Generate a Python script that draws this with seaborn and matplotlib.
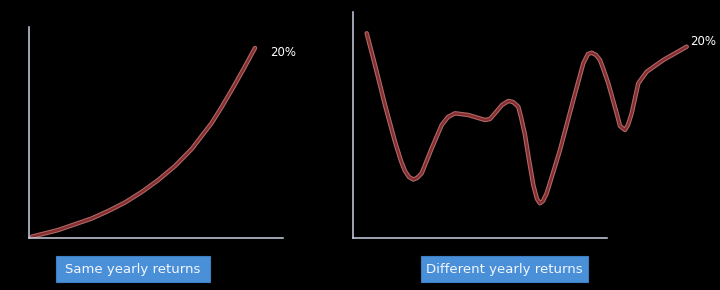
import matplotlib
matplotlib.use("Agg")
import matplotlib.pyplot as plt
import matplotlib.patheffects as pe
from matplotlib.patches import Rectangle
import seaborn as sns
import pandas as pd

# ---- data (time and value in arbitrary units) ----
same_time = [2.7, 29.3, 62.7, 79.3, 96, 112.7, 129.3, 146, 162.7, 182.7, 192.7, 202.7, 214.3, 226]
same_value = [1.3, 8, 19.5, 27, 35.5, 46, 58, 72, 89, 115, 131, 148, 168.5, 190]

diff_time = [13.7, 22, 32, 42, 48, 52, 56, 60.3, 64, 68.7, 78.7, 88.7, 95, 102, 115.3, 132, 137,
             142, 149, 155.3, 160, 165.3, 168, 172, 176, 180.3, 184, 187, 190, 193.7, 200,
             207, 220.3, 230.3, 235, 238.7, 243, 247, 250, 255.3, 263.7, 267, 272, 275,
             278.7, 285.3, 293.7, 310.3, 333.7]
diff_value = [204.7, 173, 133, 96.3, 77, 67, 61, 58.5, 60, 64.7, 89.7, 113, 121, 124.7, 123, 118, 119,
              124.7, 133, 137, 136, 131.3, 121, 103, 78, 53, 39, 34.7, 37, 44.7, 65,
              88, 138, 174.7, 184, 185.3, 183, 178, 170, 154.7, 124.7, 112, 108, 113,
              124.7, 154.7, 166.3, 178, 191.3]

end_label = "20%"
box_labels = ["Same yearly returns", "Different yearly returns"]

sns.set_style("dark", {"axes.facecolor": "black", "figure.facecolor": "black"})
plt.rcParams['font.family'] = ['DejaVu Sans']

W, H = 720, 290
fig = plt.figure(figsize=(W / 100, H / 100), dpi=100)
fig.patch.set_facecolor("black")

def px_axes(x0, y_top, x1, y_bot):
    return fig.add_axes([x0 / W, (H - y_bot) / H, (x1 - x0) / W, (y_bot - y_top) / H])

line_fx = [pe.Stroke(linewidth=3.2, foreground="#b46a6a", joinstyle="round", capstyle="round"),
           pe.Normal()]
spine_col = "#c9d2e3"
line_col = "#842e30"

def style_axes(ax, xmax, ymax, spine_len):
    ax.set_facecolor("black")
    ax.set_xlim(0, xmax)
    ax.set_ylim(0, ymax)
    ax.set_xticks([])
    ax.set_yticks([])
    ax.set_xlabel("")
    ax.set_ylabel("")
    ax.grid(False)
    for s in ["top", "right"]:
        ax.spines[s].set_visible(False)
    for s in ["left", "bottom"]:
        ax.spines[s].set_visible(True)
        ax.spines[s].set_color(spine_col)
        ax.spines[s].set_linewidth(1.1)
    ax.spines["bottom"].set_bounds(0, spine_len)

# left chart: axis origin at (29, 238), top at 27
ax1 = px_axes(29, 27, 310, 238)
df1 = pd.DataFrame({"t": same_time, "v": same_value})
sns.lineplot(data=df1, x="t", y="v", ax=ax1, color=line_col, linewidth=1.7,
             estimator=None, path_effects=line_fx, solid_joinstyle="round")
style_axes(ax1, 281, 211, 254)
ax1.text(same_time[-1] + 15, same_value[-1] - 5, end_label, color="white",
         fontsize=8.5, va="center", ha="left")

# right chart: axis origin at (353, 238), top at 12
ax2 = px_axes(353, 12, 720, 238)
df2 = pd.DataFrame({"t": diff_time, "v": diff_value})
sns.lineplot(data=df2, x="t", y="v", ax=ax2, color=line_col, linewidth=1.7,
             estimator=None, path_effects=line_fx, solid_joinstyle="round")
style_axes(ax2, 367, 226, 254)
ax2.text(diff_time[-1] + 3, diff_value[-1] + 5, end_label, color="white",
         fontsize=8.5, va="center", ha="left")

# label boxes
boxes = [(56, 256, 210, 282), (421, 256, 588, 282)]
for (x0, y0, x1, y1), lab in zip(boxes, box_labels):
    fig.patches.append(Rectangle((x0 / W, (H - y1) / H), (x1 - x0) / W, (y1 - y0) / H,
                                 transform=fig.transFigure, facecolor="#4a90d8",
                                 edgecolor="#3d7fc4", linewidth=0.8))
    fig.text((x0 + x1) / 2 / W, (H - (y0 + y1) / 2) / H, lab, color="#f2f6ff",
             fontsize=9.5, ha="center", va="center")

fig.savefig("out.png", dpi=100, facecolor="black")
